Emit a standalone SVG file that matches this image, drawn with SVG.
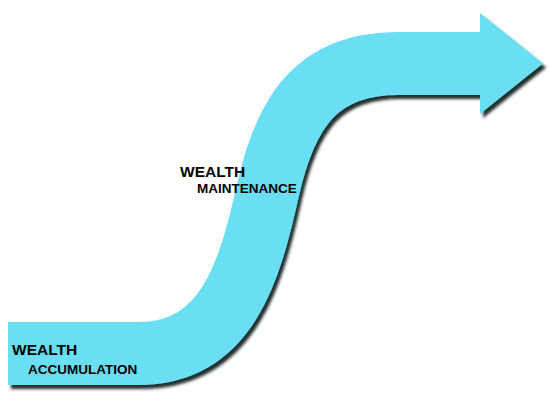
<svg xmlns="http://www.w3.org/2000/svg" width="550" height="400" viewBox="0 0 550 400">
<defs>
<filter id="sh" x="-10%" y="-10%" width="130%" height="130%">
<feGaussianBlur in="SourceAlpha" stdDeviation="1.8"/>
<feOffset dx="3" dy="4" result="b"/>
<feFlood flood-color="#142222" flood-opacity="0.95"/>
<feComposite in2="b" operator="in"/>
<feMerge><feMergeNode/><feMergeNode in="SourceGraphic"/></feMerge>
</filter>
<style>
.t{font-family:"Liberation Sans",Arial,sans-serif;font-weight:bold;fill:#000}
</style>
</defs>
<rect width="550" height="400" fill="#fff"/>
<g id="arrow" filter="url(#sh)">
<path d="M8,353.5 H138 C228,353.5 250,270 268,190 C286,110 318,63.5 398,63.5 H482" fill="none" stroke="#6adef2" stroke-width="63"/>
<polygon points="480,13 543,63.5 480,114" fill="#6adef2"/>
</g>
<g id="label-accumulation">
<text class="t" x="12" y="355" font-size="15.5">WEALTH</text>
<text class="t" x="28" y="374" font-size="13.5">ACCUMULATION</text>
</g>
<g id="label-maintenance">
<text class="t" x="180" y="177" font-size="15.5">WEALTH</text>
<text class="t" x="197" y="193" font-size="13.5">MAINTENANCE</text>
</g>
</svg>
